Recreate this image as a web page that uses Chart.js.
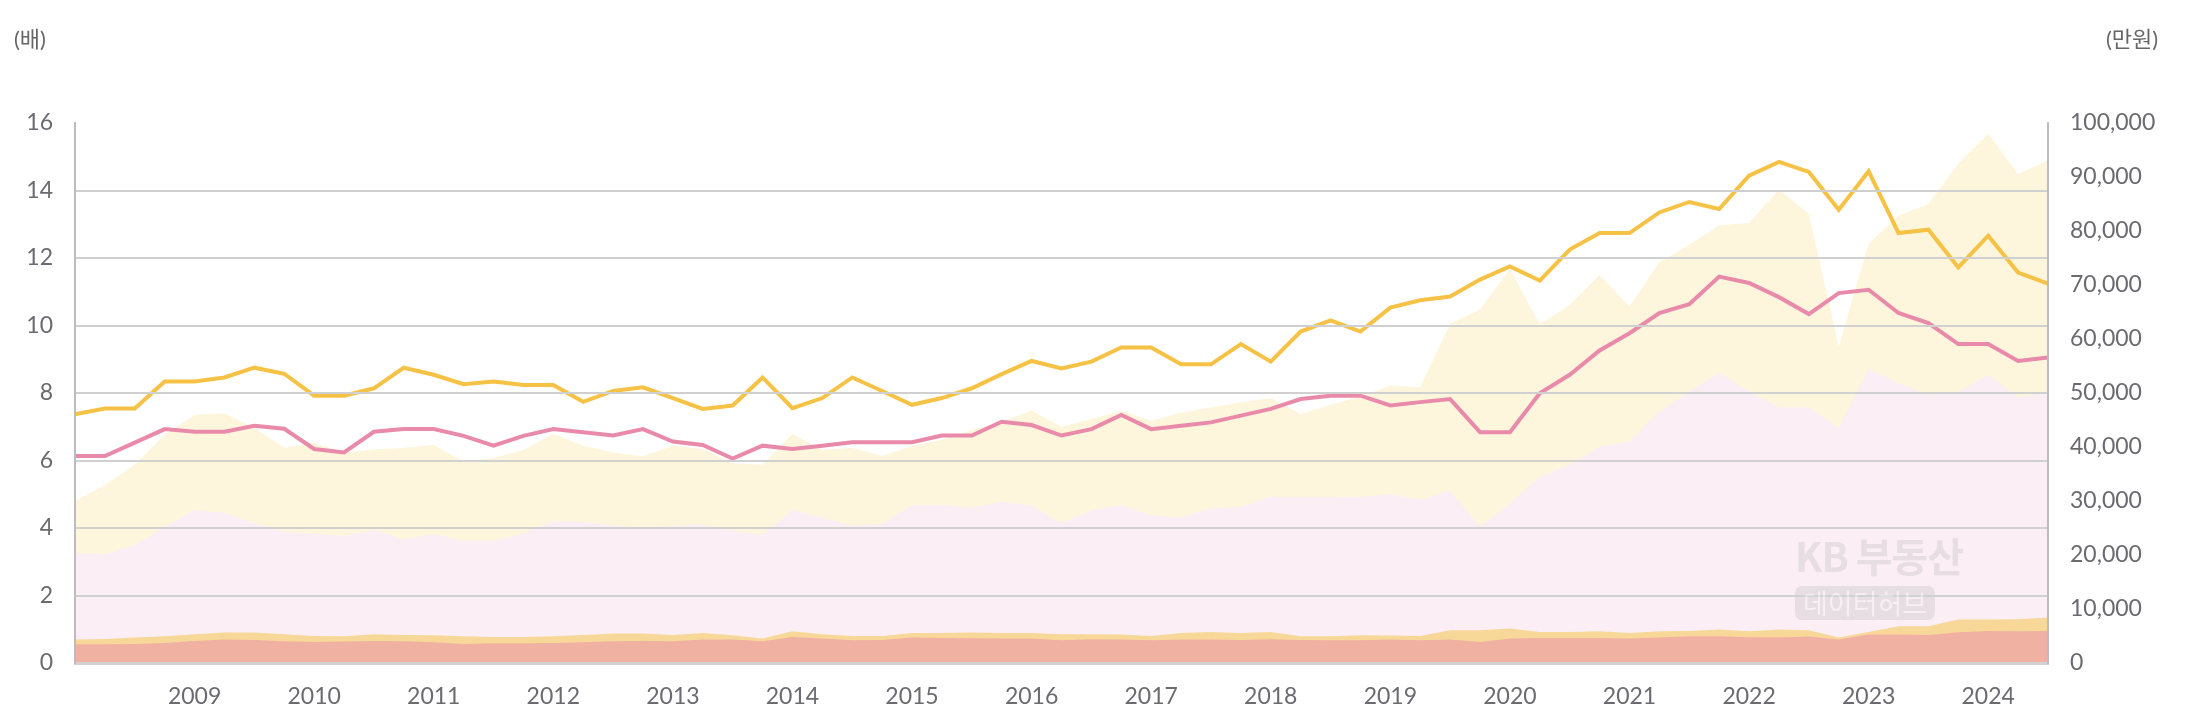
<!DOCTYPE html>
<html>
<head>
<meta charset="utf-8">
<script src="https://cdn.jsdelivr.net/npm/chart.js@4"></script>
<style>
    body { margin: 0; background: #fff; }
    #wrap { position: relative; width: 2194px; height: 724px; }
    .unit { position: absolute; top: 21px; font: 22px Lato, "Noto Sans CJK KR", sans-serif; color: #666; }
    #wm { position: absolute; left: 1795px; top: 530px; font-family: "Noto Sans CJK KR", Lato, sans-serif; opacity: 0.55; }
    #wm .kb { font-size: 40px; font-weight: 700; color: #d6cfd3; line-height: 50px; letter-spacing: -1px; }
    #wm .hub { margin-top: 6px; display: inline-block; background: #d6cfd3; color: #f3eef1; font-size: 27px; padding: 0 8px; border-radius: 7px; line-height: 34px; }
</style>
</head>
<body>
<div id="wrap">
    <canvas id="chart"></canvas>
    <div class="unit" style="left:14px">(배)</div>
    <div class="unit" style="left:2106px">(만원)</div>
    <div id="wm"><div class="kb">KB 부동산</div><div class="hub">데이터허브</div></div>
</div>
<script>
// 분기별 라벨 (2008.1Q ~ 2024.3Q)
const quarters = [
    "2008.1Q","2008.2Q","2008.3Q","2008.4Q","2009.1Q","2009.2Q","2009.3Q","2009.4Q",
    "2010.1Q","2010.2Q","2010.3Q","2010.4Q","2011.1Q","2011.2Q","2011.3Q","2011.4Q",
    "2012.1Q","2012.2Q","2012.3Q","2012.4Q","2013.1Q","2013.2Q","2013.3Q","2013.4Q",
    "2014.1Q","2014.2Q","2014.3Q","2014.4Q","2015.1Q","2015.2Q","2015.3Q","2015.4Q",
    "2016.1Q","2016.2Q","2016.3Q","2016.4Q","2017.1Q","2017.2Q","2017.3Q","2017.4Q",
    "2018.1Q","2018.2Q","2018.3Q","2018.4Q","2019.1Q","2019.2Q","2019.3Q","2019.4Q",
    "2020.1Q","2020.2Q","2020.3Q","2020.4Q","2021.1Q","2021.2Q","2021.3Q","2021.4Q",
    "2022.1Q","2022.2Q","2022.3Q","2022.4Q","2023.1Q","2023.2Q","2023.3Q","2023.4Q",
    "2024.1Q","2024.2Q","2024.3Q"
];

// 배 (왼쪽 축)
const ratioYellow = [
    7.37, 7.54, 7.54, 8.34, 8.34, 8.46, 8.75, 8.57, 7.92, 7.92, 8.14, 8.75,
    8.54, 8.26, 8.34, 8.24, 8.24, 7.74, 8.06, 8.17, 7.85, 7.53, 7.63, 8.46,
    7.55, 7.85, 8.46, 8.06, 7.65, 7.85, 8.14, 8.56, 8.95, 8.73, 8.93, 9.35,
    9.35, 8.85, 8.85, 9.45, 8.93, 9.82, 10.15, 9.82, 10.53, 10.75, 10.86, 11.36,
    11.75, 11.33, 12.25, 12.74, 12.74, 13.35, 13.66, 13.45, 14.44, 14.85, 14.55, 13.43,
    14.57, 12.74, 12.84, 11.72, 12.66, 11.57, 11.24
];
const ratioPink = [
    6.13, 6.13, 6.53, 6.93, 6.85, 6.85, 7.03, 6.94, 6.34, 6.24, 6.85, 6.93,
    6.93, 6.73, 6.44, 6.73, 6.93, 6.84, 6.74, 6.93, 6.56, 6.46, 6.06, 6.44,
    6.34, 6.44, 6.54, 6.54, 6.54, 6.74, 6.74, 7.15, 7.05, 6.74, 6.93, 7.35,
    6.93, 7.03, 7.13, 7.33, 7.53, 7.82, 7.92, 7.92, 7.63, 7.73, 7.82, 6.84,
    6.84, 7.99, 8.54, 9.26, 9.77, 10.37, 10.63, 11.45, 11.26, 10.84, 10.34, 10.96,
    11.06, 10.37, 10.07, 9.45, 9.45, 8.95, 9.05
];

// 만원 (오른쪽 축)
const priceYellow = [
    30060, 32940, 36690, 42250, 45940, 46250, 43500, 39880, 40810, 38940, 39560, 39880,
    40380, 37250, 37940, 39440, 42440, 40250, 39000, 38310, 40250, 39630, 37000, 36690,
    42440, 39440, 39880, 38380, 40190, 41310, 43130, 44690, 46750, 43750, 45190, 46690,
    44880, 46380, 47310, 48310, 49060, 46130, 47810, 49310, 51380, 51060, 62810, 65440,
    72940, 62750, 66310, 71880, 66000, 74190, 77440, 81060, 81500, 87690, 83190, 58630,
    77630, 82880, 85000, 92440, 98000, 90560, 93060
];
const pricePink = [
    20310, 20190, 21810, 25250, 28310, 27810, 25880, 24310, 24000, 23500, 24630, 22880,
    23880, 22630, 22630, 24000, 26250, 26130, 25440, 25130, 25380, 25690, 24500, 23690,
    28310, 26940, 25380, 25750, 29250, 29250, 28750, 29880, 29130, 25940, 28310, 29250,
    27380, 26940, 28630, 28940, 30810, 30810, 30810, 30750, 31250, 30250, 31880, 25250,
    29560, 34500, 36690, 40060, 41000, 46560, 50250, 53810, 50250, 47380, 47380, 43500,
    54440, 51810, 49630, 50250, 53380, 49060, 50250
];
const incomeOrange = [
    4330, 4460, 4700, 4950, 5320, 5630, 5630, 5320, 5010, 4950, 5320, 5200,
    5140, 4950, 4830, 4830, 4950, 5200, 5450, 5450, 5200, 5570, 5140, 4520,
    5880, 5320, 5010, 5010, 5570, 5570, 5630, 5570, 5570, 5320, 5320, 5260,
    5010, 5570, 5760, 5570, 5760, 4950, 4950, 5140, 5080, 5010, 6060, 6060,
    6370, 5760, 5760, 5880, 5570, 5880, 5940, 6190, 5880, 6190, 6060, 4700,
    5760, 6810, 6810, 8040, 8040, 8100, 8410
];
const incomeSalmon = [
    3470, 3470, 3530, 3720, 4090, 4330, 4270, 4020, 3900, 3960, 4090, 4020,
    3840, 3530, 3650, 3650, 3720, 3840, 4020, 4090, 4020, 4330, 4330, 4020,
    4830, 4520, 4210, 4270, 4700, 4640, 4580, 4520, 4520, 4210, 4400, 4330,
    4210, 4330, 4330, 4270, 4400, 4270, 4210, 4210, 4330, 4210, 4330, 3900,
    4520, 4640, 4640, 4640, 4520, 4700, 4950, 4950, 4770, 4700, 4890, 4330,
    5260, 5260, 5200, 5690, 5940, 5880, 5940
];

const tickFont = { family: "Lato, 'Noto Sans', sans-serif", size: 23 };
const tickColor = "#6a6a70";

function area(data, color) {
    return {
        type: "line",
        data,
        yAxisID: "y1",
        backgroundColor: color,
        borderWidth: 0,
        pointRadius: 0,
        fill: "origin",
        tension: 0
    };
}

function line(data, color) {
    return {
        type: "line",
        data,
        yAxisID: "y",
        borderColor: color,
        borderWidth: 4,
        pointRadius: 0,
        fill: false,
        tension: 0
    };
}

new Chart(document.getElementById("chart"), {
    type: "line",
    data: {
        labels: quarters,
        datasets: [
            line(ratioYellow, "#F6C245"),
            line(ratioPink, "#E98AAB"),
            area(incomeSalmon, "#F0B1A3"),
            area(incomeOrange, "#F8D898"),
            area(pricePink, "#FBEFF5"),
            area(priceYellow, "#FDF6DD")
        ]
    },
    options: {
        responsive: true,
        maintainAspectRatio: false,
        animation: false,
        layout: { padding: { top: 123, left: 0, right: 0, bottom: 0 } },
        plugins: { legend: { display: false }, tooltip: { enabled: false } },
        scales: {
            x: {
                offset: false,
                grid: { display: false },
                border: { display: true, color: "#d2d2d2", width: 3, z: 1 },
                ticks: {
                    autoSkip: false,
                    maxRotation: 0,
                    padding: 12,
                    font: tickFont,
                    color: tickColor,
                    callback: (v, i) => (i > 0 && quarters[i].endsWith(".1Q")) ? quarters[i].slice(0, 4) : ""
                },
                afterFit: s => { s.height = 61; }
            },
            y: {
                position: "left",
                min: 0,
                max: 16,
                grid: {
                    z: 1,
                    drawTicks: false,
                    lineWidth: 2,
                    color: c => (c.tick.value === 16 || c.tick.value === 0) ? "rgba(0,0,0,0)" : "#d0d0d0"
                },
                border: { color: "#bcbcbc", width: 2, z: 1 },
                ticks: { stepSize: 2, padding: 22, font: tickFont, color: tickColor },
                afterFit: s => { s.width = 75; }
            },
            y1: {
                position: "right",
                min: 0,
                max: 100000,
                grid: { drawOnChartArea: false, drawTicks: false },
                border: { color: "#bcbcbc", width: 2, z: 1 },
                ticks: {
                    stepSize: 10000,
                    padding: 22,
                    font: tickFont,
                    color: tickColor,
                    callback: v => v.toLocaleString("en-US")
                },
                afterFit: s => { s.width = 146; }
            }
        }
    }
});
</script>
</body>
</html>
